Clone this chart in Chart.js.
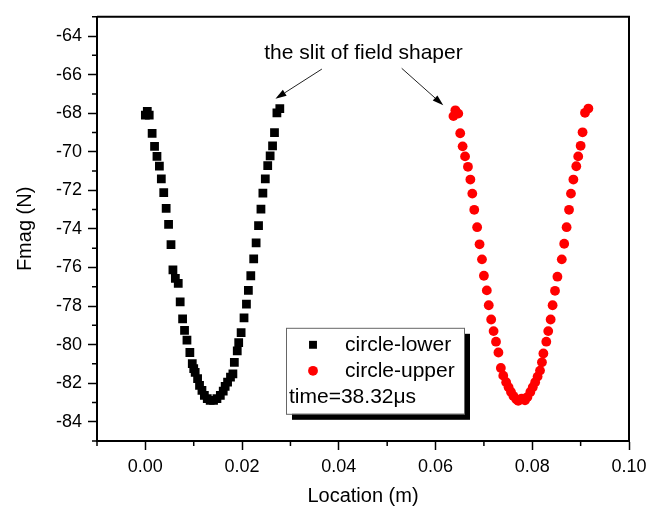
<!DOCTYPE html>
<html>
<head>
<meta charset="utf-8">
<title>Fmag vs Location</title>
<script src="https://cdn.jsdelivr.net/npm/chart.js@4.4.0/dist/chart.umd.min.js"></script>
<style>
    html, body { margin: 0; padding: 0; background: #fff; }
    #wrap { width: 662px; height: 509px; }
</style>
</head>
<body>
<div id="wrap"><canvas id="fmagChart" width="662" height="509"></canvas></div>
<script>
'use strict';

//Series: magnetic force along the two circles
var lowerX = [0.0000, 0.0004, 0.0008, 0.0014, 0.0019, 0.0024, 0.0029, 0.0033, 0.0038, 0.0043,
              0.0048, 0.0053, 0.0057, 0.0062, 0.0068, 0.0072, 0.0077, 0.0081, 0.0086, 0.0092,
              0.0097, 0.0100, 0.0103, 0.0108, 0.0112, 0.0117, 0.0122, 0.0128, 0.0134, 0.0141,
              0.0148, 0.0155, 0.0161, 0.0165, 0.0170, 0.0176, 0.0181, 0.0184, 0.0190, 0.0193,
              0.0198, 0.0204, 0.0209, 0.0213, 0.0218, 0.0224, 0.0229, 0.0234, 0.0239, 0.0243,
              0.0248, 0.0253, 0.0258, 0.0263, 0.0267, 0.0272, 0.0278];
var lowerY = [-68.10, -67.90, -68.10, -69.04, -69.72, -70.24, -70.75, -71.40, -72.12, -72.94,
              -73.77, -74.82, -76.13, -76.56, -76.82, -77.79, -78.67, -79.26, -79.77, -80.41,
              -80.99, -81.25, -81.44, -81.77, -82.12, -82.37, -82.63, -82.80, -82.89, -82.89,
              -82.80, -82.63, -82.41, -82.17, -81.95, -81.69, -81.52, -80.92, -80.32, -79.90,
              -79.38, -78.62, -77.90, -77.19, -76.43, -75.55, -74.72, -73.83, -72.97, -72.15,
              -71.40, -70.72, -70.21, -69.69, -69.01, -67.98, -67.76];

var upperX = [0.0637, 0.0641, 0.0647, 0.0651, 0.0656, 0.0661, 0.0667, 0.0672, 0.0676, 0.0680,
              0.0686, 0.0691, 0.0696, 0.0700, 0.0706, 0.0710, 0.0715, 0.0720, 0.0725, 0.0730,
              0.0735, 0.0740, 0.0746, 0.0751, 0.0756, 0.0761, 0.0767, 0.0771, 0.0778, 0.0785,
              0.0790, 0.0796, 0.0801, 0.0806, 0.0811, 0.0816, 0.0820, 0.0823, 0.0829, 0.0833,
              0.0838, 0.0842, 0.0847, 0.0852, 0.0861, 0.0866, 0.0871, 0.0876, 0.0880, 0.0885,
              0.0891, 0.0895, 0.0900, 0.0904, 0.0909, 0.0916];
var upperY = [-68.15, -67.85, -68.02, -69.04, -69.72, -70.24, -70.78, -71.44, -72.17, -73.01,
              -73.91, -74.80, -75.58, -76.43, -77.19, -77.96, -78.70, -79.30, -79.85, -80.41,
              -81.21, -81.61, -81.95, -82.21, -82.46, -82.67, -82.84, -82.92, -82.80, -82.89,
              -82.72, -82.46, -82.21, -81.95, -81.66, -81.35, -80.92, -80.46, -79.85, -79.30,
              -78.70, -77.96, -77.21, -76.48, -75.58, -74.77, -73.91, -73.01, -72.17, -71.44,
              -70.75, -70.24, -69.69, -68.99, -67.98, -67.76];

//Axis ticks
var xTicks = [0.00, 0.02, 0.04, 0.06, 0.08, 0.10];
var yTicks = [-84, -82, -80, -78, -76, -74, -72, -70, -68, -66, -64];

//Texts
var seriesNames = ['circle-lower', 'circle-upper'];
var timeLabel = 'time=38.32\u03bcs';
var noteText = 'the slit of field shaper';

var FONT = '"Liberation Sans", Arial, sans-serif';

function toPoints(xs, ys) {
    var pts = [];
    xs.forEach(function(x, i) {
        pts.push({x: x, y: ys[i]});
    });
    return pts;
}

//Minor ticks half way between the major ones, plus frame on top/right
var framePlugin = {
    id: 'frame',
    afterDraw: function(chart) {
        var ctx = chart.ctx,
            area = chart.chartArea,
            xs = chart.scales.x,
            ys = chart.scales.y;

        ctx.save();
        ctx.strokeStyle = '#000';
        ctx.lineWidth = 1.5;
        ctx.beginPath();
        for (var i = 0; i <= xTicks.length; i++) {
            var xv = (i < xTicks.length ? xTicks[i] : xTicks[xTicks.length - 1] + 0.02) - 0.01;
            if (xv < xs.min - 1e-9 || xv > xs.max + 1e-9) continue;
            var px = xs.getPixelForValue(xv);
            ctx.moveTo(px, area.bottom);
            ctx.lineTo(px, area.bottom + 5);
        }
        for (var j = 0; j <= yTicks.length; j++) {
            var yv = (j < yTicks.length ? yTicks[j] : yTicks[yTicks.length - 1] + 2) - 1;
            if (yv < ys.min - 1e-9 || yv > ys.max + 1e-9) continue;
            var py = ys.getPixelForValue(yv);
            ctx.moveTo(area.left, py);
            ctx.lineTo(area.left - 5, py);
        }
        ctx.stroke();

        ctx.lineWidth = 2;
        ctx.beginPath();
        ctx.moveTo(area.left, area.top);
        ctx.lineTo(area.right, area.top);
        ctx.lineTo(area.right, area.bottom);
        ctx.stroke();
        ctx.restore();
    }
};

//Annotation text with two arrows pointing to the slit
var notePlugin = {
    id: 'note',
    afterDraw: function(chart) {
        var ctx = chart.ctx,
            xs = chart.scales.x,
            ys = chart.scales.y;

        var label = {x: 0.0451, y: -64.89};
        var arrows = [
            {from: {x: 0.0365, y: -65.71}, to: {x: 0.0269, y: -67.25}},
            {from: {x: 0.0530, y: -65.67}, to: {x: 0.0616, y: -67.59}}
        ];

        ctx.save();
        ctx.fillStyle = '#000';
        ctx.font = '21px ' + FONT;
        ctx.textAlign = 'center';
        ctx.textBaseline = 'middle';
        ctx.fillText(noteText, xs.getPixelForValue(label.x), ys.getPixelForValue(label.y));

        ctx.strokeStyle = '#222';
        ctx.lineWidth = 1;
        arrows.forEach(function(a) {
            var x1 = xs.getPixelForValue(a.from.x), y1 = ys.getPixelForValue(a.from.y),
                x2 = xs.getPixelForValue(a.to.x), y2 = ys.getPixelForValue(a.to.y);
            var ang = Math.atan2(y2 - y1, x2 - x1),
                len = 11, half = 3.5;
            var bx = x2 - len * Math.cos(ang), by = y2 - len * Math.sin(ang);

            ctx.beginPath();
            ctx.moveTo(x1, y1);
            ctx.lineTo(bx, by);
            ctx.stroke();

            ctx.beginPath();
            ctx.moveTo(x2, y2);
            ctx.lineTo(bx + half * Math.sin(ang), by - half * Math.cos(ang));
            ctx.lineTo(bx - half * Math.sin(ang), by + half * Math.cos(ang));
            ctx.closePath();
            ctx.fill();
        });
        ctx.restore();
    }
};

//Boxed legend with drop shadow and the time stamp
var legendPlugin = {
    id: 'boxLegend',
    afterDraw: function(chart) {
        var ctx = chart.ctx,
            area = chart.chartArea;
        var left = area.left + 189, top = area.top + 311,
            w = 178, h = 86, shadow = 6;

        ctx.save();
        ctx.fillStyle = '#000';
        ctx.fillRect(left + shadow, top + shadow, w, h);
        ctx.fillStyle = '#fff';
        ctx.fillRect(left, top, w, h);
        ctx.strokeStyle = '#666';
        ctx.lineWidth = 1;
        ctx.strokeRect(left + 0.5, top + 0.5, w, h);

        ctx.font = '21px ' + FONT;
        ctx.textBaseline = 'middle';
        ctx.textAlign = 'left';
        chart.data.datasets.forEach(function(ds, i) {
            var cy = top + 17 + i * 26;
            ctx.fillStyle = ds.backgroundColor;
            Chart.helpers.drawPoint(ctx, {
                pointStyle: ds.pointStyle,
                radius: ds.pointStyle === 'rect' ? 5.6 : ds.pointRadius,
                rotation: 0,
                borderWidth: 0
            }, left + 27, cy);
            ctx.fillStyle = '#000';
            ctx.fillText(ds.label, left + 59, cy);
        });
        ctx.fillText(timeLabel, left + 3, top + 69);
        ctx.restore();
    }
};

var ctx = document.getElementById('fmagChart');

var fmagChart = new Chart(ctx, {
    type: 'scatter',
    data: {
        datasets: [
            {
                label: seriesNames[0],
                data: toPoints(lowerX, lowerY),
                pointStyle: 'rect',
                pointRadius: 6.2,
                borderWidth: 0,
                backgroundColor: '#000000',
                showLine: false
            },
            {
                label: seriesNames[1],
                data: toPoints(upperX, upperY),
                pointStyle: 'circle',
                pointRadius: 4.9,
                borderWidth: 0,
                backgroundColor: '#ff0000',
                showLine: false
            }
        ]
    },
    options: {
        responsive: false,
        animation: false,
        devicePixelRatio: 1,
        events: [],
        layout: {
            padding: {top: 12, right: 33, left: 0, bottom: 0}
        },
        plugins: {
            legend: {display: false},
            tooltip: {enabled: false}
        },
        scales: {
            x: {
                type: 'linear',
                min: -0.01,
                max: 0.10,
                afterBuildTicks: function(scale) {
                    scale.ticks = xTicks.map(function(v) { return {value: v}; });
                },
                afterFit: function(scale) {
                    scale.height = 68;
                },
                ticks: {
                    color: '#000',
                    font: {family: FONT, size: 18},
                    padding: 6,
                    maxRotation: 0,
                    callback: function(v) { return Number(v).toFixed(2); }
                },
                grid: {
                    drawOnChartArea: false,
                    color: '#000',
                    tickLength: 9,
                    tickWidth: 1.5
                },
                border: {color: '#000', width: 2},
                title: {
                    display: true,
                    text: 'Location (m)',
                    color: '#000',
                    font: {family: FONT, size: 20},
                    padding: {top: 0, bottom: 1}
                }
            },
            y: {
                type: 'linear',
                min: -85,
                max: -63,
                afterBuildTicks: function(scale) {
                    scale.ticks = yTicks.map(function(v) { return {value: v}; });
                },
                afterFit: function(scale) {
                    scale.width = 97;
                },
                ticks: {
                    color: '#000',
                    font: {family: FONT, size: 18},
                    padding: 6,
                    callback: function(v) { return String(v); }
                },
                grid: {
                    drawOnChartArea: false,
                    color: '#000',
                    tickLength: 9,
                    tickWidth: 1.5
                },
                border: {color: '#000', width: 2},
                title: {
                    display: true,
                    text: 'Fmag (N)',
                    color: '#000',
                    font: {family: FONT, size: 20},
                    padding: {top: 13, bottom: 0}
                }
            }
        }
    },
    plugins: [framePlugin, notePlugin, legendPlugin]
});
</script>
</body>
</html>
